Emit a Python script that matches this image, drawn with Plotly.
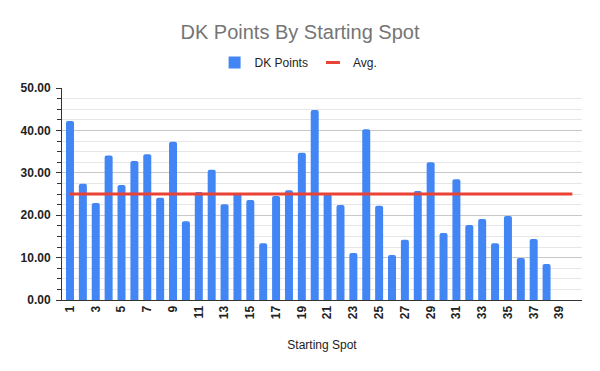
import plotly.graph_objects as go

spots = list(range(1, 39))
dk_points = [42.2, 27.4, 22.9, 34.1, 27.1, 32.8, 34.4, 24.1, 37.3, 18.6,
             25.5, 30.7, 22.6, 25.1, 23.6, 13.4, 24.5, 25.9, 34.7, 44.8,
             24.9, 22.4, 11.1, 40.3, 22.2, 10.6, 14.2, 25.7, 32.5, 15.8,
             28.5, 17.7, 19.1, 13.4, 19.8, 9.9, 14.4, 8.5]
avg_spots = list(range(1, 41))
avg_value = 25.0
avg_line = [avg_value] * len(avg_spots)
x_ticks = list(range(1, 40, 2))

BLUE = "#4285F4"
RED = "#EA4335"

fig = go.Figure()
fig.add_trace(go.Bar(x=spots, y=dk_points, name="DK Points", showlegend=False,
                     marker=dict(color=BLUE, line=dict(width=0))))
fig.add_trace(go.Scatter(x=avg_spots, y=avg_line, name="Avg.", mode="lines",
                         showlegend=False, line=dict(color=RED, width=3)))
# legend entries
fig.add_trace(go.Scatter(x=[None], y=[None], name="DK Points", mode="markers",
                         marker=dict(symbol="square", size=12, color=BLUE)))
fig.add_trace(go.Scatter(x=[None], y=[None], name="Avg.", mode="markers",
                         marker=dict(symbol="line-ew", size=10,
                                     line=dict(color=RED, width=3))))

fig.update_layout(
    width=600, height=371,
    margin=dict(l=62, r=18, t=88, b=71),
    paper_bgcolor="white", plot_bgcolor="white",
    font=dict(family="Liberation Sans, Arial, sans-serif", size=12, color="#222222"),
    title=dict(text="DK Points By Starting Spot", x=0.5, xanchor="center",
               y=0.915, yanchor="middle",
               font=dict(size=20, color="#757575", family="Liberation Sans, Arial")),
    legend=dict(orientation="h", x=0.455, xanchor="center", y=1.12, yanchor="middle",
                font=dict(size=12, color="#222222"), itemwidth=30),
    bargap=0.38,
    barcornerradius=2,
    showlegend=True,
)
fig.update_xaxes(range=[0.38, 40.75], tickmode="array", tickvals=x_ticks,
                 ticktext=[str(v) for v in x_ticks], tickangle=-90,
                 tickfont=dict(size=12, color="#222222", weight="bold"),
                 showline=True, linecolor="#333333", linewidth=1,
                 showgrid=False, ticks="", zeroline=False,
                 title=dict(text="Starting Spot", font=dict(size=12, color="#222222"),
                            standoff=22))
fig.update_yaxes(range=[0, 50], dtick=10, tickformat=".2f",
                 tickfont=dict(size=12, color="#222222", weight="bold"),
                 ticklabelstandoff=3,
                 showline=True, linecolor="#333333", linewidth=1,
                 ticks="outside", ticklen=5, tickcolor="#333333",
                 showgrid=True, gridcolor="#c8c8c8", gridwidth=1,
                 zeroline=False,
                 minor=dict(dtick=2.5, ticks="outside", ticklen=4, tickcolor="#333333",
                            showgrid=True, gridcolor="#e6e6e6", gridwidth=1))

fig.write_html("out.html")
